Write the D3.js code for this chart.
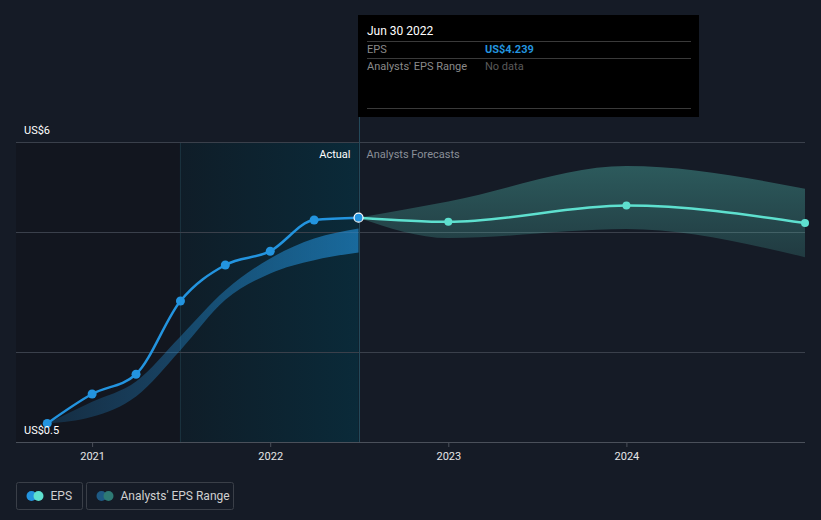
<!DOCTYPE html>
<html><head><meta charset="utf-8">
<script src="https://cdn.jsdelivr.net/npm/d3@7"></script>
<style>
html,body{margin:0;padding:0;background:#151b26;}
svg{display:block;font-family:Roboto,"Noto Sans",sans-serif;}
</style></head><body>
<svg id="c" width="821" height="520"></svg>
<script>
// ---- data ----
const actualDates = ["2020-09-30","2020-12-31","2021-03-31","2021-06-30","2021-09-30","2021-12-31","2022-03-31","2022-06-30"];
const actualEPS   = [0.81, 1.30, 1.63, 2.85, 3.45, 3.68, 4.20, 4.239];
const pastRangeLow  = [0.81, 0.92, 1.26, 2.03, 2.87, 3.31, 3.53, 3.66];
const pastRangeHigh = [0.81, 1.17, 1.51, 2.26, 3.03, 3.56, 3.89, 4.06];
const forecastDates = ["2022-06-30","2022-12-31","2023-12-31","2024-12-31"];
const forecastEPS   = [4.239, 4.17, 4.44, 4.15];
const forecastLow   = [4.239, 3.90, 4.05, 3.58];
const forecastHigh  = [4.239, 4.51, 5.10, 4.72];
const yTickValues = [0.5, 5.5];
const yTickLabels = ["US$0.5", "US$6"];
const yGridValues = [2, 4];
const xTickYears = [2021, 2022, 2023, 2024];

const parse = d3.utcParse("%Y-%m-%d");
const svg = d3.select("#c");
const L = 16, R = 805, T = 142, B = 442;

const x = d3.scaleUtc().domain([parse("2020-07-28"), parse("2024-12-31")]).range([L, R]);
const y = d3.scaleLinear().domain([0.5, 5.5]).range([B, T]);

const now = parse("2022-06-30"), yearAgo = parse("2021-06-30");

const defs = svg.append("defs");
const g1 = defs.append("linearGradient").attr("id","lastYear").attr("x1",0).attr("x2",1).attr("y1",0).attr("y2",0);
g1.append("stop").attr("offset",0).attr("stop-color","#0f1d28");
g1.append("stop").attr("offset",1).attr("stop-color","#0a2a39");
const g2 = defs.append("linearGradient").attr("id","pastBand").attr("x1",0).attr("x2",1).attr("y1",0).attr("y2",0);
g2.append("stop").attr("offset",0).attr("stop-color","#2394df").attr("stop-opacity",0.18);
g2.append("stop").attr("offset",1).attr("stop-color","#2394df").attr("stop-opacity",0.6);
const g3 = defs.append("linearGradient").attr("id","fcBand").attr("x1",0).attr("x2",0).attr("y1",0).attr("y2",1);
g3.append("stop").attr("offset",0).attr("stop-color","#5ee0cf").attr("stop-opacity",0.32);
g3.append("stop").attr("offset",1).attr("stop-color","#5ee0cf").attr("stop-opacity",0.16);

// shaded regions
svg.append("rect").attr("x",L).attr("y",T).attr("width",x(yearAgo)-L).attr("height",B-T).attr("fill","#12161f");
svg.append("rect").attr("x",x(yearAgo)).attr("y",T).attr("width",x(now)-x(yearAgo)).attr("height",B-T).attr("fill","url(#lastYear)");
svg.append("line").attr("x1",x(yearAgo)).attr("x2",x(yearAgo)).attr("y1",T).attr("y2",B).attr("stroke","#1b3340").attr("stroke-width",1);

// grid
svg.selectAll(".grid").data(yGridValues.concat([5.5])).enter().append("line")
  .attr("x1",L).attr("x2",R).attr("y1",d=>Math.round(y(d))+0.5).attr("y2",d=>Math.round(y(d))+0.5)
  .attr("stroke","#3a404b").attr("stroke-width",1);

// now line
svg.append("line").attr("x1",Math.round(x(now))+0.5).attr("x2",Math.round(x(now))+0.5).attr("y1",117).attr("y2",B)
  .attr("stroke","#24495a").attr("stroke-width",1);

// bands
const pastData = actualDates.map((d,i)=>({d:parse(d),lo:pastRangeLow[i],hi:pastRangeHigh[i]}));
const fcData = forecastDates.map((d,i)=>({d:parse(d),lo:forecastLow[i],hi:forecastHigh[i],v:forecastEPS[i]}));
const area = d3.area().x(d=>x(d.d)).y0(d=>y(d.lo)).y1(d=>y(d.hi)).curve(d3.curveMonotoneX);
svg.append("path").datum(pastData).attr("d",area).attr("fill","url(#pastBand)");
svg.append("path").datum(fcData).attr("d",area).attr("fill","url(#fcBand)");

// lines
const actData = actualDates.map((d,i)=>({d:parse(d),v:actualEPS[i]}));
const line = d3.line().x(d=>x(d.d)).y(d=>y(d.v)).curve(d3.curveMonotoneX);
svg.append("path").datum(fcData).attr("d",line).attr("fill","none").attr("stroke","#5ee0cf").attr("stroke-width",2.5);
svg.append("path").datum(actData).attr("d",line).attr("fill","none").attr("stroke","#2394df").attr("stroke-width",2.5);
svg.selectAll(".fp").data(fcData.slice(1)).enter().append("circle")
  .attr("cx",d=>x(d.d)).attr("cy",d=>y(d.v)).attr("r",4).attr("fill","#5ee0cf");
svg.selectAll(".ap").data(actData.slice(0,-1)).enter().append("circle")
  .attr("cx",d=>x(d.d)).attr("cy",d=>y(d.v)).attr("r",4.5).attr("fill","#2394df");
const last = actData[actData.length-1];
svg.append("circle").attr("cx",x(last.d)).attr("cy",y(last.v)).attr("r",4.5).attr("fill","#2394df").attr("stroke","#ffffff").attr("stroke-width",1.2);

// x axis
svg.append("line").attr("x1",L).attr("x2",R).attr("y1",B+0.5).attr("y2",B+0.5).attr("stroke","#4a505a");
const xt = svg.selectAll(".xt").data(xTickYears).enter().append("g").attr("transform",d=>`translate(${x(parse(d+"-01-01"))},${B})`);
xt.append("line").attr("y1",0).attr("y2",5).attr("stroke","#4a505a");
xt.append("text").attr("y",18).attr("text-anchor","middle").attr("fill","#e6e6e6").attr("font-size",11).text(d=>d);

// y labels
svg.selectAll(".yl").data(yTickValues).enter().append("text")
  .attr("x",24).attr("y",d=>y(d)-8).attr("fill","#ffffff").attr("font-size",11)
  .text((d,i)=>yTickLabels[i]);

// Actual / Forecast labels
svg.append("text").attr("x",x(now)-8).attr("y",158).attr("text-anchor","end").attr("fill","#ffffff").attr("font-size",11).text("Actual");
svg.append("text").attr("x",x(now)+8).attr("y",158).attr("fill","#8a8f98").attr("font-size",11).text("Analysts Forecasts");

// tooltip
const tt = svg.append("g").attr("transform","translate(358,15)");
tt.append("rect").attr("width",341).attr("height",102).attr("fill","#000000");
tt.append("text").attr("x",9).attr("y",20).attr("fill","#ffffff").attr("font-size",12).text("Jun 30 2022");
[26,43,93].forEach(yy=>tt.append("line").attr("x1",9).attr("x2",333).attr("y1",yy+0.5).attr("y2",yy+0.5).attr("stroke","#3a3a3a"));
tt.append("text").attr("x",9).attr("y",38).attr("fill","#8a8a8a").attr("font-size",11).text("EPS");
tt.append("text").attr("x",127).attr("y",38).attr("fill","#2394df").attr("font-size",11).attr("font-weight","bold").text("US$"+actualEPS[actualEPS.length-1].toFixed(3));
tt.append("text").attr("x",9).attr("y",55).attr("fill","#8a8a8a").attr("font-size",11).text("Analysts' EPS Range");
tt.append("text").attr("x",127).attr("y",55).attr("fill","#5a5a5a").attr("font-size",11).text("No data");

// legend
const lg = svg.append("g");
const l1 = lg.append("g").attr("transform","translate(16.5,482.5)");
l1.append("rect").attr("width",66).attr("height",27).attr("rx",2).attr("fill","none").attr("stroke","#3a3f48");
l1.append("circle").attr("cx",15).attr("cy",13.5).attr("r",5).attr("fill","#2394df");
l1.append("circle").attr("cx",22).attr("cy",13.5).attr("r",5).attr("fill","#5ee0cf");
l1.append("text").attr("x",34).attr("y",17.5).attr("fill","#d0d0d0").attr("font-size",12).text("EPS");
const l2 = lg.append("g").attr("transform","translate(86.5,482.5)");
l2.append("rect").attr("width",147).attr("height",27).attr("rx",2).attr("fill","none").attr("stroke","#3a3f48");
l2.append("circle").attr("cx",15).attr("cy",13.5).attr("r",5).attr("fill","#1e5a84");
l2.append("circle").attr("cx",22).attr("cy",13.5).attr("r",5).attr("fill","#2e7a74");
l2.append("text").attr("x",34).attr("y",17.5).attr("fill","#d0d0d0").attr("font-size",12).text("Analysts' EPS Range");
</script>
</body></html>
